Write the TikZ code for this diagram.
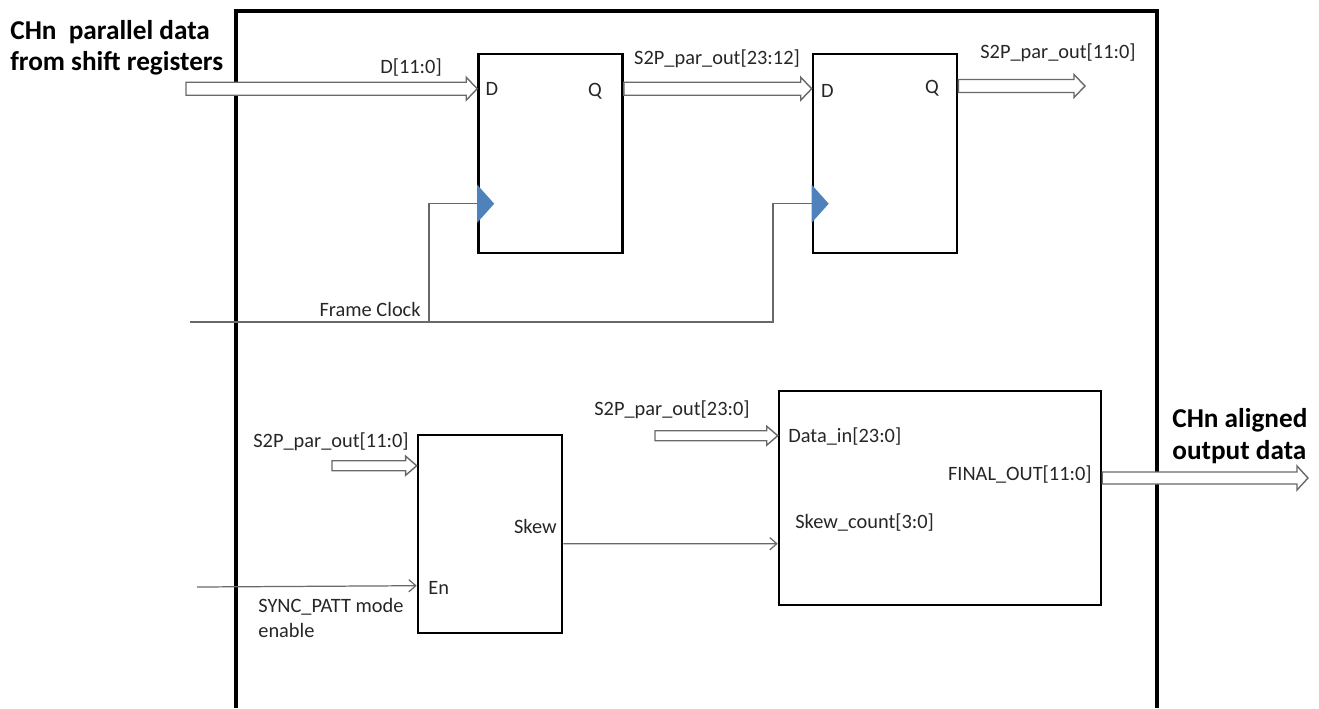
\documentclass[tikz,border=0pt]{standalone}
\usepackage{fontspec}
\setmainfont{Carlito}
\usetikzlibrary{arrows.meta,calc}

\definecolor{clkblue}{RGB}{79,129,189}
\definecolor{wiregray}{RGB}{105,105,105}

\tikzset{
  frame/.style={line width=1.8pt},
  block/.style={draw,line width=1.5pt,minimum width=2.88cm,minimum height=3.98cm,inner sep=0pt},
  wire/.style={draw=wiregray,line width=0.7pt},
  sig/.style={wire,-{Straight Barb[length=4pt,width=7pt]}},
  bus/.style={draw=wiregray,fill=white,line width=0.8pt},
  clk/.style={fill=clkblue},
  lbl/.style={font=\fontsize{11.6}{14.2}\selectfont,text=black!85,inner sep=0pt},
  title/.style={font=\fontsize{15.5}{17.8}\selectfont\bfseries,align=left,inner sep=0pt},
}

% fat bus arrow: from, to, half body, half head
\newcommand{\busarrow}[4]{%
  \draw[bus] let \p1=(#1), \p2=(#2) in
    (\x1,\y2+#3) -- (\x2-0.22cm,\y2+#3) -- (\x2-0.22cm,\y2+#4) -- (\x2,\y2)
    -- (\x2-0.22cm,\y2-#4) -- (\x2-0.22cm,\y2-#3) -- (\x1,\y2-#3) -- cycle;}

\begin{document}
\begin{tikzpicture}[x=0.02cm, y=-0.02cm]
  \useasboundingbox (0,0) rectangle (1319,708);
  % outer frame, open at the bottom
  \draw[frame] (236,708) -- (236,11) -- (1157,11) -- (1157,708);

  % registers
  \node[block] (ff1) at (550.5,153.5) {};
  \node[block] (ff2) at (885,153.5) {};
  \node[block,minimum height=3.96cm] (skew) at (490,534) {};
  \node[block,minimum width=6.44cm,minimum height=4.28cm] (align) at (940,498) {};

  % ports
  \coordinate (din) at (186,90);
  \coordinate (ff1d) at ($(ff1.north west)+(0,36)$);
  \coordinate (ff1q) at ($(ff1.north east)+(0,36)$);
  \coordinate (ff2d) at ($(ff2.north west)+(0,36)$);
  \coordinate (ff2q) at ($(ff2.north east)+(0,32)$);
  \coordinate (dout) at (1085,86);
  \coordinate (ck1) at ($(ff1.north west)+(0,151)$);
  \coordinate (ck2) at ($(ff2.north west)+(0,151)$);
  \coordinate (fclk) at (190,322);
  \coordinate (tap1) at (429,322);
  \coordinate (tap2) at (773,322);
  \coordinate (parlo) at (332,467);
  \coordinate (skin) at ($(skew.north west)+(0,32)$);
  \coordinate (syncen) at (197,587);
  \coordinate (sken) at ($(skew.north west)+(0,152)$);
  \coordinate (skout) at ($(skew.north east)+(0,110)$);
  \coordinate (alcnt) at ($(align.north west)+(0,154)$);
  \coordinate (parall) at (655,437);
  \coordinate (alin) at ($(align.north west)+(0,46)$);
  \coordinate (alout) at ($(align.north east)+(0,87)$);
  \coordinate (final) at (1308,478);

  % buses
  \busarrow{din}{ff1d}{0.13cm}{0.23cm}
  \busarrow{ff1q}{ff2d}{0.13cm}{0.23cm}
  \busarrow{ff2q}{dout}{0.13cm}{0.23cm}
  \busarrow{parlo}{skin}{0.1cm}{0.19cm}
  \busarrow{parall}{alin}{0.1cm}{0.19cm}
  \busarrow{alout}{final}{0.12cm}{0.24cm}

  % clock
  \draw[wire] (fclk) -- (tap2) |- (ck2);
  \draw[wire] (tap1) |- (ck1);
  \fill[clk] (ck1) ++(0,-19) -- ++(17,19) -- ++(-17,19) -- cycle;
  \fill[clk] (ck2) ++(0,-19) -- ++(17,19) -- ++(-17,19) -- cycle;

  % skew path
  \draw[sig] (syncen) -- (sken);
  \draw[sig] (skout) -- (alcnt);

  % labels
  \node[title,anchor=west] (ttlin) at (10,48) {CHn~ parallel data\\from shift registers};
  \node[title,anchor=west] (ttlout) at (1172,436) {CHn aligned\\output data};
  \node[lbl] (ldin) at (411,68) {D[11:0]};
  \node[lbl,anchor=west] (ld1) at ($(ff1d)+(8,0)$) {D};
  \node[lbl] (lq1) at (595,91) {Q};
  \node[lbl] (lmid) at (717,59) {S2P\_par\_out[23:12]};
  \node[lbl,anchor=west] (ld2) at ($(ff2d)+(9,2)$) {D};
  \node[lbl] (lq2) at (932,88) {Q};
  \node[lbl] (lout) at (1058,53) {S2P\_par\_out[11:0]};
  \node[lbl,anchor=base east] (lclk) at (421,316) {Frame Clock};
  \node[lbl] (lparlo) at (331,442) {S2P\_par\_out[11:0]};
  \node[lbl,anchor=west] (len) at (428,588) {En};
  \node[lbl,anchor=north west,align=left] (lsync) at (258,598) {SYNC\_PATT mode\\enable};
  \node[lbl,anchor=east] (lskew) at (557,526) {Skew};
  \node[lbl] (lparall) at (672,410) {S2P\_par\_out[23:0]};
  \node[lbl,anchor=west] (ldatain) at (788,437) {Data\_in[23:0]};
  \node[lbl,anchor=east] (lfinal) at (1092,475) {FINAL\_OUT[11:0]};
  \node[lbl,anchor=west] (lcnt) at (795,523) {Skew\_count[3:0]};
\end{tikzpicture}
\end{document}
